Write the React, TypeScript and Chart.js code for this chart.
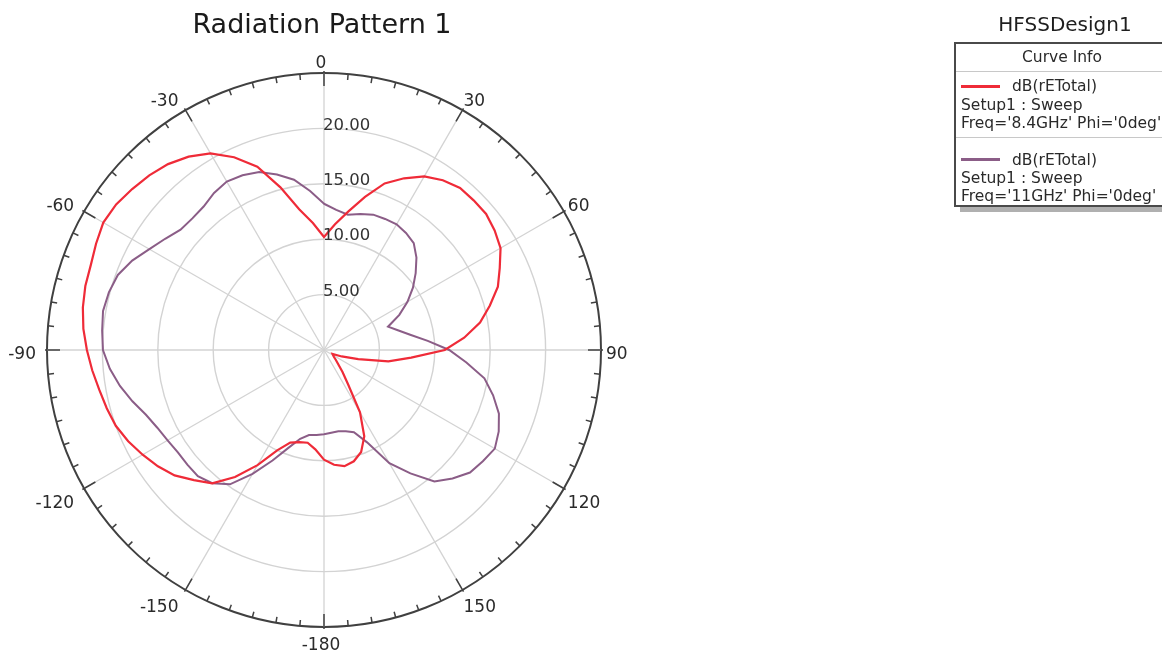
import React, { useEffect, useRef } from "react";
import { Chart, registerables } from "chart.js";

Chart.register(...registerables);

// ---- data ----
const chartTitle = "Radiation Pattern 1";
const designName = "HFSSDesign1";
const legendHeader = "Curve Info";

// theta (deg), clockwise from top, 5 deg steps
const angleLabels: number[] = [
  0, 5, 10, 15, 20, 25, 30, 35, 40, 45, 50, 55, 60, 65, 70, 75, 80, 85, 90, 95,
  100, 105, 110, 115, 120, 125, 130, 135, 140, 145, 150, 155, 160, 165, 170, 175,
  -180, -175, -170, -165, -160, -155, -150, -145, -140, -135, -130, -125, -120,
  -115, -110, -105, -100, -95, -90, -85, -80, -75, -70, -65, -60, -55, -50, -45,
  -40, -35, -30, -25, -20, -15, -10, -5,
];

const majorAngleLabels: number[] = [0, 30, 60, 90, 120, 150, -180, -150, -120, -90, -60, -30];

const radialTicks: number[] = [5, 10, 15, 20];
const radialMin = 0;
const radialMax = 25;
const radialStep = 5;

// dB(rETotal), Freq = 8.4 GHz
const series84GHz: number[] = [
  10.2, 11.4, 12.7, 14.3, 16.0, 17.1, 18.1, 18.7, 19.1, 19.1, 19.1, 18.8, 18.4,
  17.5, 16.7, 15.5, 14.3, 12.7, 10.9, 7.9, 5.9, 3.2, 1.7, 0.85, 0.95, 1.1, 1.4,
  1.8, 2.6, 3.8, 6.5, 8.6, 9.8, 10.4, 10.65, 10.4,
  9.9, 9.0, 8.5, 8.6, 8.9, 10.0, 12.0, 14.0, 15.7, 16.6, 17.6, 18.3, 18.9, 19.5,
  20.0, 20.3, 20.6, 21.0, 21.4, 21.8, 22.1, 22.3, 22.4, 22.7, 23.0, 22.9, 22.6,
  22.3, 21.9, 21.3, 20.5, 19.2, 17.6, 15.2, 12.9, 11.5,
];

// dB(rETotal), Freq = 11 GHz
const series11GHz: number[] = [
  13.2, 12.7, 12.4, 12.7, 13.0, 13.05, 13.1, 12.9, 12.6, 11.8, 10.8, 9.8, 8.7,
  7.5, 6.15, 6.9, 7.9, 9.4, 11.3, 12.9, 14.7, 15.8, 16.8, 17.4, 17.8, 17.5, 17.2,
  16.4, 15.5, 13.6, 11.8, 9.2, 7.9, 7.6, 7.45, 7.5,
  7.6, 7.7, 7.8, 8.3, 9.4, 11.0, 12.9, 14.8, 15.7, 16.1, 16.1, 16.1, 16.3, 16.6,
  17.1, 17.9, 18.7, 19.4, 19.95, 20.1, 20.25, 20.1, 19.8, 19.1, 18.2, 17.5, 16.9,
  16.8, 16.9, 17.3, 17.55, 17.4, 17.1, 16.4, 15.6, 14.4,
];

const seriesNames: string[] = ["dB(rETotal)", "dB(rETotal)"];
const seriesSetups: string[] = ["Setup1 : Sweep", "Setup1 : Sweep"];
const seriesConditions: string[] = ["Freq='8.4GHz' Phi='0deg'", "Freq='11GHz' Phi='0deg'"];
const seriesColors: string[] = ["#ef2b38", "#8b5d87"];

const FONT = '"DejaVu Sans", Verdana, sans-serif';

const polarDecor = {
  id: "polarDecor",
  afterDatasetsDraw(chart: any) {
    const scale = chart.scales.r;
    const ctx: CanvasRenderingContext2D = chart.ctx;
    const R = scale.drawingArea;
    const n = chart.data.labels.length;
    ctx.save();

    // ticks on outer ring
    ctx.strokeStyle = "#404040";
    ctx.lineWidth = 1.5;
    for (let i = 0; i < n; i++) {
      const major = majorAngleLabels.includes(angleLabels[i]);
      const a = scale.getPointPosition(i, major ? R + 2 : R);
      const b = scale.getPointPosition(i, R - (major ? 13 : 6));
      ctx.beginPath();
      ctx.moveTo(a.x, a.y);
      ctx.lineTo(b.x, b.y);
      ctx.stroke();
    }

    // angle labels
    const fs = 17;
    const capH = fs * 0.73;
    ctx.font = `${fs}px ${FONT}`;
    ctx.fillStyle = "#2a2a2a";
    ctx.textBaseline = "alphabetic";
    for (let i = 0; i < n; i++) {
      if (!majorAngleLabels.includes(angleLabels[i])) continue;
      const ang = scale.getIndexAngle(i);
      const s = Math.sin(ang);
      const c = Math.cos(ang);
      const p = scale.getPointPosition(i, R + 8);
      ctx.textAlign = Math.abs(s) < 0.05 ? "center" : s > 0 ? "left" : "right";
      let y = p.y;
      if (Math.abs(c) < 0.05) y = p.y + capH / 2;
      else if (c < 0) y = p.y + capH;
      ctx.fillText(String(angleLabels[i]), p.x - 3, y + 3);
    }

    // radial value labels
    ctx.font = `16.5px ${FONT}`;
    ctx.fillStyle = "#333333";
    ctx.textAlign = "left";
    ctx.textBaseline = "middle";
    for (const v of radialTicks) {
      const d = scale.getDistanceFromCenterForValue(v);
      ctx.fillText(v.toFixed(2), scale.xCenter - 1, scale.yCenter - d - 3);
    }

    // title
    ctx.font = `27px ${FONT}`;
    ctx.fillStyle = "#1a1a1a";
    ctx.textAlign = "center";
    ctx.textBaseline = "alphabetic";
    ctx.fillText(chartTitle, scale.xCenter - 2, 33);
    ctx.restore();
  },
};

export default function App() {
  const canvasRef = useRef<HTMLCanvasElement | null>(null);

  useEffect(() => {
    if (!canvasRef.current) return;
    const chart = new Chart(canvasRef.current, {
      type: "radar",
      data: {
        labels: angleLabels.map((a) => String(a)),
        datasets: [
          {
            label: seriesNames[0],
            data: series84GHz,
            borderColor: seriesColors[0],
            backgroundColor: "rgba(0,0,0,0)",
            fill: false,
            borderWidth: 2.2,
            pointRadius: 0,
            pointHoverRadius: 0,
          },
          {
            label: seriesNames[1],
            data: series11GHz,
            borderColor: seriesColors[1],
            backgroundColor: "rgba(0,0,0,0)",
            fill: false,
            borderWidth: 2,
            pointRadius: 0,
            pointHoverRadius: 0,
          },
        ],
      },
      options: {
        responsive: false,
        animation: false,
        events: [],
        layout: { padding: { left: 47, right: 561, top: 73, bottom: 26 } },
        elements: { line: { tension: 0 } },
        plugins: {
          legend: { display: false },
          tooltip: { enabled: false },
          title: { display: false },
        },
        scales: {
          r: {
            min: radialMin,
            max: radialMax,
            startAngle: 0,
            ticks: { display: false, stepSize: radialStep },
            pointLabels: { display: false },
            grid: {
              circular: true,
              color: (c: any) => (c.tick && c.tick.value === radialMax ? "#404040" : "#d3d3d3"),
              lineWidth: (c: any) => (c.tick && c.tick.value === radialMax ? 2 : 1.4),
            },
            angleLines: {
              color: "#d3d3d3",
              lineWidth: (c: any) =>
                majorAngleLabels.includes(angleLabels[c.index]) ? 1.3 : 0,
            },
          },
        },
      } as any,
      plugins: [polarDecor],
    });
    return () => chart.destroy();
  }, []);

  return (
    <div
      style={{
        position: "fixed",
        left: 0,
        top: 0,
        width: 1162,
        height: 653,
        overflow: "hidden",
        background: "#ffffff",
        fontFamily: FONT,
        color: "#2a2a2a",
      }}
    >
      <canvas
        ref={canvasRef}
        width={1162}
        height={653}
        style={{ position: "absolute", left: 0, top: 0, width: 1162, height: 653 }}
      />
      <div
        style={{
          position: "absolute",
          left: 915,
          top: 12,
          width: 300,
          textAlign: "center",
          fontSize: 20,
          lineHeight: "24px",
          color: "#1e1e1e",
        }}
      >
        {designName}
      </div>
      <div
        style={{
          position: "absolute",
          left: 954,
          top: 42,
          width: 216,
          height: 165,
          boxSizing: "border-box",
          border: "2px solid #4a4a4a",
          background: "#ffffff",
          boxShadow: "6px 5px 0 #b0b0b0",
          fontSize: 15.5,
          overflow: "hidden",
        }}
      >
        <div
          style={{
            height: 27,
            lineHeight: "27px",
            textAlign: "center",
            borderBottom: "1px solid #c8c8c8",
          }}
        >
          {legendHeader}
        </div>
        {seriesNames.map((name, i) => (
          <div
            key={i}
            style={{
              paddingTop: i === 0 ? 5 : 13,
              paddingBottom: 4,
              paddingLeft: 5,
              lineHeight: i === 0 ? "18.5px" : "18px",
              whiteSpace: "nowrap",
              borderBottom: i < seriesNames.length - 1 ? "1px solid #c8c8c8" : "none",
            }}
          >
            <div style={{ display: "flex", alignItems: "center" }}>
              <span
                style={{
                  display: "inline-block",
                  width: 39,
                  height: 2.5,
                  background: seriesColors[i],
                  marginRight: 12,
                }}
              />
              <span>{name}</span>
            </div>
            <div>{seriesSetups[i]}</div>
            <div>{seriesConditions[i]}</div>
          </div>
        ))}
      </div>
    </div>
  );
}
